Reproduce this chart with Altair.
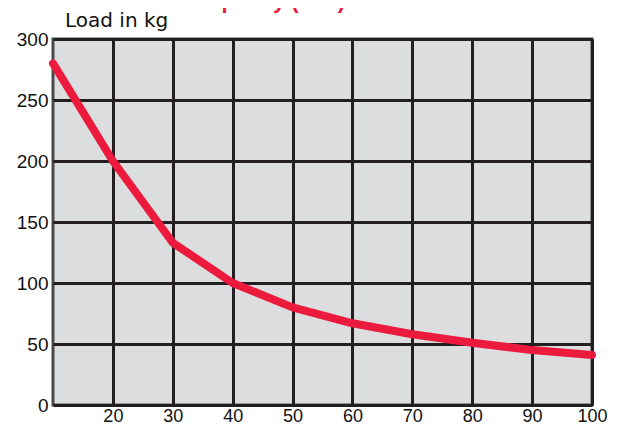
import altair as alt
import pandas as pd

# Data
stroke_mm = [10, 20, 30, 40, 50, 60, 70, 80, 90, 100]
load_kg = [280, 200, 133, 100, 80, 67, 58, 51, 45, 41]
x_ticks = [20, 30, 40, 50, 60, 70, 80, 90, 100]
y_ticks = [0, 50, 100, 150, 200, 250, 300]
y_label = "Load in kg"
top_title = "Capacity (mm)"

df = pd.DataFrame({"stroke": stroke_mm, "load": load_kg})

line = alt.Chart(df).mark_line(
    color="#ec1b3d", strokeWidth=8, strokeCap="round", strokeJoin="round",
    interpolate="linear", clip=False
).encode(
    x=alt.X("stroke:Q",
            scale=alt.Scale(domain=[10, 100], nice=False, zero=False),
            axis=alt.Axis(values=x_ticks, title=None, ticks=False, domain=False,
                          grid=True, gridColor="#231f20", gridWidth=3, gridOpacity=1,
                          labelFont="Liberation Sans", labelFontSize=18, labelColor="#111",
                          labelPadding=2, labelFlush=False, labelOverlap=False)),
    y=alt.Y("load:Q",
            scale=alt.Scale(domain=[0, 300], nice=False),
            axis=alt.Axis(values=y_ticks, title=None, ticks=False, domain=False,
                          grid=True, gridColor="#231f20", gridWidth=3, gridOpacity=1,
                          labelFont="Liberation Sans", labelFontSize=19, labelColor="#111",
                          labelPadding=5, labelFlush=False, labelOverlap=False)),
)

ylab = alt.Chart(pd.DataFrame({"t": [y_label]})).mark_text(
    align="left", baseline="alphabetic", font="DejaVu Sans", fontSize=20, color="#111"
).encode(x=alt.value(12), y=alt.value(-12), text="t:N")

title = alt.Chart(pd.DataFrame({"t": [top_title]})).mark_text(
    align="right", baseline="alphabetic", font="Liberation Sans", fontSize=22,
    fontWeight="bold", color="#ec1b3d"
).encode(x=alt.value(292), y=alt.value(-31), text="t:N")

chart = alt.layer(line, ylab, title).properties(
    width=539, height=366,
    background="white",
    autosize=alt.AutoSizeParams(type="none"),
    padding={"left": 45, "top": 31, "right": 17, "bottom": 30},
).configure_view(
    fill="#dcdddf", stroke="#4a4a4a", strokeWidth=3
)

chart.save("out.html", embed_options={"renderer": "svg", "actions": False})
